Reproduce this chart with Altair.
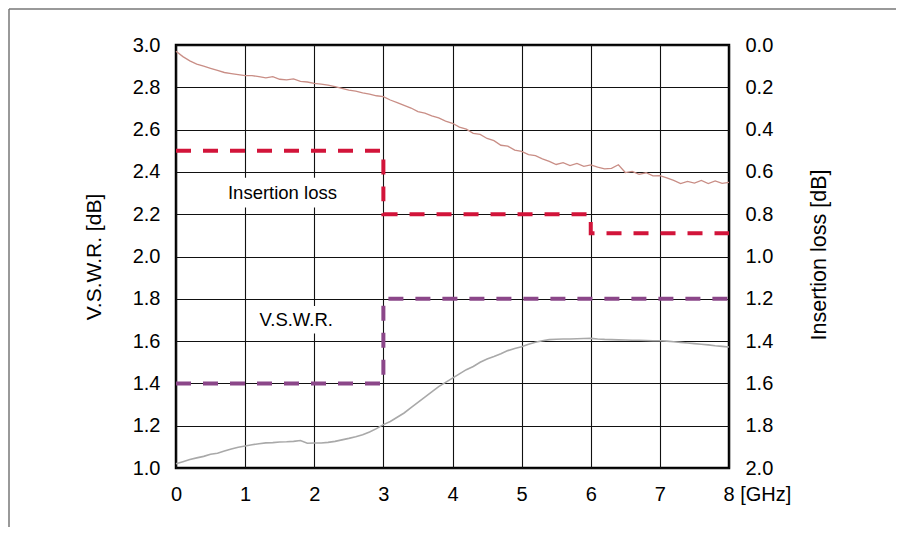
import altair as alt
import pandas as pd

# ---------------- data ----------------
ghz = [0.0, 0.1, 0.2, 0.3, 0.4, 0.5, 0.6, 0.7, 0.8, 0.9,
       1.0, 1.1, 1.2, 1.3, 1.4, 1.5, 1.6, 1.7, 1.8, 1.9,
       2.0, 2.1, 2.2, 2.3, 2.4, 2.5, 2.6, 2.7, 2.8, 2.9,
       3.0, 3.1, 3.2, 3.3, 3.4, 3.5, 3.6, 3.7, 3.8, 3.9,
       4.0, 4.1, 4.2, 4.3, 4.4, 4.5, 4.6, 4.7, 4.8, 4.9,
       5.0, 5.1, 5.2, 5.3, 5.4, 5.5, 5.6, 5.7, 5.8, 5.9,
       6.0, 6.1, 6.2, 6.3, 6.4, 6.5, 6.6, 6.7, 6.8, 6.9,
       7.0, 7.1, 7.2, 7.3, 7.4, 7.5, 7.6, 7.7, 7.8, 7.9, 8.0]

# measured insertion loss [dB] (right axis)
il_measured = [0.030, 0.055, 0.075, 0.090, 0.100, 0.110, 0.120, 0.130, 0.135, 0.140,
               0.145, 0.145, 0.150, 0.155, 0.150, 0.162, 0.165, 0.160, 0.172, 0.175,
               0.181, 0.185, 0.190, 0.197, 0.205, 0.213, 0.218, 0.226, 0.232, 0.240,
               0.244, 0.260, 0.272, 0.285, 0.298, 0.315, 0.322, 0.335, 0.345, 0.360,
               0.370, 0.388, 0.398, 0.418, 0.423, 0.442, 0.452, 0.474, 0.478, 0.497,
               0.503, 0.518, 0.523, 0.538, 0.550, 0.565, 0.556, 0.570, 0.560, 0.574,
               0.567, 0.577, 0.586, 0.583, 0.566, 0.603, 0.598, 0.612, 0.604, 0.619,
               0.618, 0.628, 0.640, 0.655, 0.645, 0.653, 0.640, 0.655, 0.643, 0.654, 0.650]

# measured V.S.W.R. (left axis)
vswr_measured = [1.020, 1.030, 1.040, 1.048, 1.055, 1.065, 1.070, 1.080, 1.090, 1.098,
                 1.104, 1.110, 1.115, 1.119, 1.120, 1.123, 1.124, 1.126, 1.130, 1.117,
                 1.118, 1.118, 1.121, 1.126, 1.133, 1.140, 1.148, 1.157, 1.170, 1.186,
                 1.205, 1.220, 1.240, 1.260, 1.285, 1.310, 1.335, 1.360, 1.385, 1.405,
                 1.425, 1.445, 1.465, 1.480, 1.500, 1.515, 1.527, 1.540, 1.555, 1.565,
                 1.573, 1.585, 1.595, 1.602, 1.607, 1.609, 1.610, 1.610, 1.611, 1.612,
                 1.613, 1.610, 1.608, 1.607, 1.606, 1.605, 1.604, 1.604, 1.603, 1.602,
                 1.602, 1.600, 1.597, 1.594, 1.591, 1.588, 1.585, 1.582, 1.578, 1.575, 1.572]

# specification limits (stepped)
il_spec_ghz = [0, 3, 6, 8]
il_spec = [0.5, 0.8, 0.89, 0.89]
vswr_spec_ghz = [0, 3, 8]
vswr_spec = [1.4, 1.8, 1.8]

# in-plot labels (with white backing boxes), in data units of the left axis
label_text = ["Insertion loss", "V.S.W.R."]
label_ghz = [1.54, 1.74]
label_vswr = [2.30, 1.70]
box_ghz_from = [0.68, 1.08]
box_ghz_to = [2.40, 2.40]
box_vswr_from = [2.232, 1.636]
box_vswr_to = [2.372, 1.766]

x_ticks = [0, 1, 2, 3, 4, 5, 6, 7, 8]
vswr_ticks = [1.0, 1.2, 1.4, 1.6, 1.8, 2.0, 2.2, 2.4, 2.6, 2.8, 3.0]
il_ticks = [0.0, 0.2, 0.4, 0.6, 0.8, 1.0, 1.2, 1.4, 1.6, 1.8, 2.0]

# ---------------- tables ----------------
meas = pd.DataFrame({"ghz": ghz, "il": il_measured, "vswr": vswr_measured})
il_spec_df = pd.DataFrame({"ghz": il_spec_ghz, "il": il_spec})
vswr_spec_df = pd.DataFrame({"ghz": vswr_spec_ghz, "vswr": vswr_spec})
labels_df = pd.DataFrame({"text": label_text, "ghz": label_ghz, "vswr": label_vswr,
                          "g0": box_ghz_from, "g1": box_ghz_to,
                          "v0": box_vswr_from, "v1": box_vswr_to})

W, H = 553, 423
FONT = "Liberation Sans"

xs = alt.Scale(domain=[0, 8], nice=False, zero=False)
ys_left = alt.Scale(domain=[1, 3], nice=False, zero=False)
ys_right = alt.Scale(domain=[0, 2], nice=False, zero=False, reverse=True)

x_axis = alt.Axis(
    values=x_ticks, title=None, grid=True, ticks=False, domain=False,
    labelExpr="datum.value == 8 ? '8 [GHz]' : datum.label",
    labelAlign={"condition": {"test": "datum.value == 8", "value": "left"}, "value": "center"},
    labelOffset={"condition": {"test": "datum.value == 8", "value": -6}, "value": 0},
    labelFlush=False, labelFontSize=20, labelPadding=16,
)
y_left_axis = alt.Axis(
    values=vswr_ticks, format=".1f", title="V.S.W.R. [dB]", orient="left",
    grid=True, ticks=False, domain=False, labelFontSize=20, labelPadding=16,
    titleFontSize=21, titleFontWeight="normal", titleX=-82, titleY=H / 2,
    titleAngle=270, titleAlign="center", titleBaseline="middle",
)
y_right_axis = alt.Axis(
    values=il_ticks, format=".1f", title="Insertion loss [dB]", orient="right",
    grid=False, ticks=False, domain=False, labelFontSize=20, labelPadding=16,
    titleFontSize=21.5, titleFontWeight="normal", titleX=90, titleY=H / 2 - 2,
    titleAngle=270, titleAlign="center", titleBaseline="middle",
)

X = lambda f: alt.X(f"{f}:Q", scale=xs, axis=x_axis)
YL = lambda f: alt.Y(f"{f}:Q", scale=ys_left, axis=y_left_axis)
YR = lambda f: alt.Y(f"{f}:Q", scale=ys_right, axis=y_right_axis)

boxes = alt.Chart(labels_df).mark_rect(color="white").encode(
    x=X("g0"), x2="g1", y=YL("v0"), y2="v1")
texts = alt.Chart(labels_df).mark_text(font=FONT, fontSize=18.5, color="black").encode(
    x=X("ghz"), y=YL("vswr"), text="text:N")
vswr_line = alt.Chart(meas).mark_line(color="#a9a9a9", strokeWidth=1.6).encode(
    x=X("ghz"), y=YL("vswr"))
vswr_step = alt.Chart(vswr_spec_df).mark_line(
    color="#8b4789", strokeWidth=4, strokeDash=[15, 12], interpolate="step-after").encode(
    x=X("ghz"), y=YL("vswr"))

left = alt.layer(boxes, texts, vswr_line, vswr_step)

il_line = alt.Chart(meas).mark_line(color="#c98e86", strokeWidth=1.3).encode(
    x=X("ghz"), y=YR("il"))
il_step = alt.Chart(il_spec_df).mark_line(
    color="#d2143a", strokeWidth=4, strokeDash=[15, 12], interpolate="step-after").encode(
    x=X("ghz"), y=YR("il"))

right = alt.layer(il_line, il_step)

# decorative outer frame (top and left edges of the figure box)
frame_top = alt.Chart(pd.DataFrame({"a": [0]})).mark_rule(color="#777777", strokeWidth=1.5).encode(
    x=alt.value(-167), x2=alt.value(W + 170), y=alt.value(-36))
frame_left = alt.Chart(pd.DataFrame({"a": [0]})).mark_rule(color="#777777", strokeWidth=1.5).encode(
    x=alt.value(-167), y=alt.value(-36), y2=alt.value(H + 60))

chart = alt.layer(left, right, frame_top, frame_left).resolve_scale(
    y="independent"
).properties(
    width=W, height=H,
    autosize=alt.AutoSizeParams(type="none"),
    padding={"left": 168, "top": 37, "right": 167, "bottom": 59},
).configure_view(
    stroke="black", strokeWidth=2.5
).configure_axis(
    gridColor="#111111", gridWidth=1.1, labelColor="black", titleColor="black",
    labelFont=FONT, titleFont=FONT,
)

chart.save("out.html", embed_options={"renderer": "svg", "actions": False})
